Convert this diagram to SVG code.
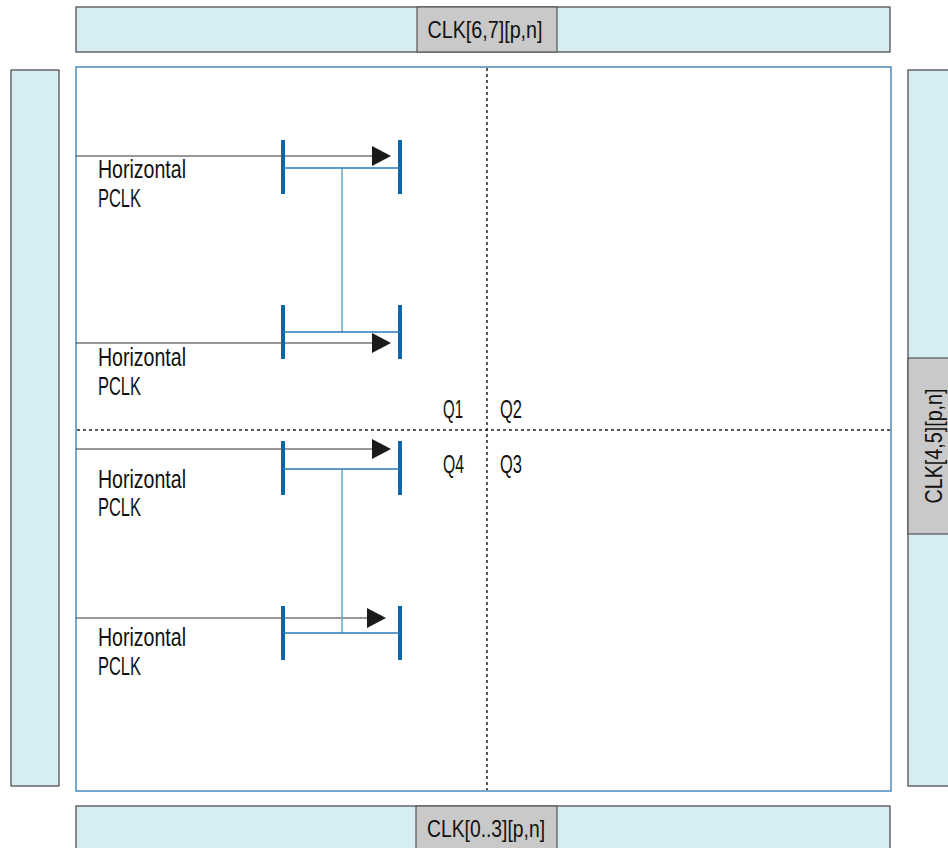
<svg xmlns="http://www.w3.org/2000/svg" width="948" height="848" viewBox="0 0 948 848">
<style>
.bar{fill:#d6edf4;stroke:#444;stroke-width:1.2}
.gray{fill:#c9c9c9;stroke:#555;stroke-width:1.2}
.t{font-family:"Liberation Sans",Arial,sans-serif;font-size:25px;fill:#111}
.lbl{font-family:"Liberation Sans",Arial,sans-serif;font-size:24px;fill:#111}
.bb{stroke:#0a66a8;stroke-width:4;fill:none}
.bl{stroke:#2a78b6;stroke-width:1.5;fill:none}
.bv{stroke:#6aa4cf;stroke-width:1.5;fill:none}
.ar{stroke:#333;stroke-width:1.2;fill:none}
.dot{stroke:#222;stroke-width:1.5;stroke-dasharray:3,3;fill:none}
</style>
<defs>
<marker id="ah" markerUnits="userSpaceOnUse" markerWidth="20" markerHeight="22" refX="0" refY="10" orient="auto">
<path d="M0,0 L19,10 L0,20 Z" fill="#1a1a1a"/>
</marker>
</defs>
<rect width="948" height="848" fill="#fff"/>
<g id="top-bar">
<rect class="bar" x="76" y="7" width="814" height="45"/>
<rect class="gray" x="417" y="7" width="140" height="45"/>
<text class="lbl" x="485" y="38" text-anchor="middle" textLength="115" lengthAdjust="spacingAndGlyphs">CLK[6,7][p,n]</text>
</g>
<g id="bottom-bar">
<rect class="bar" x="76" y="806" width="814" height="50"/>
<rect class="gray" x="416" y="806" width="141" height="50"/>
<text class="lbl" x="486" y="837" text-anchor="middle" textLength="118" lengthAdjust="spacingAndGlyphs">CLK[0..3][p,n]</text>
</g>
<g id="left-bar">
<rect class="bar" x="11" y="70" width="48" height="716"/>
</g>
<g id="right-bar">
<rect class="bar" x="908" y="70" width="50" height="716"/>
<rect class="gray" x="908" y="358" width="50" height="176"/>
<text class="lbl" transform="translate(942,446) rotate(-90)" x="0" y="0" text-anchor="middle" textLength="115" lengthAdjust="spacingAndGlyphs">CLK[4,5][p,n]</text>
</g>
<g id="device">
<rect x="76" y="67" width="815" height="724" fill="#fff" stroke="#4a8cc0" stroke-width="1.5"/>
<line class="dot" x1="487" y1="68" x2="487" y2="790"/>
<line class="dot" x1="77" y1="430" x2="890" y2="430"/>
<text class="t" x="443" y="418" textLength="20" lengthAdjust="spacingAndGlyphs">Q1</text>
<text class="t" x="500" y="418" textLength="22" lengthAdjust="spacingAndGlyphs">Q2</text>
<text class="t" x="443" y="473" textLength="21" lengthAdjust="spacingAndGlyphs">Q4</text>
<text class="t" x="500" y="473" textLength="22" lengthAdjust="spacingAndGlyphs">Q3</text>
</g>
<g id="connectors">
<line class="ar" x1="76" y1="156" x2="372" y2="156" marker-end="url(#ah)"/>
<line class="ar" x1="76" y1="343" x2="372" y2="343" marker-end="url(#ah)"/>
<line class="ar" x1="76" y1="449" x2="372" y2="449" marker-end="url(#ah)"/>
<line class="ar" x1="76" y1="618" x2="367" y2="618" marker-end="url(#ah)"/>
<line class="bv" x1="342" y1="168" x2="342" y2="332"/>
<line class="bv" x1="342" y1="469" x2="342" y2="633"/>
</g>
<g id="pclk-1">
<line class="bb" x1="283" y1="140" x2="283" y2="194"/>
<line class="bb" x1="400" y1="140" x2="400" y2="194"/>
<line class="bl" x1="283" y1="168" x2="400" y2="168"/>
<text class="t" x="98" y="178" textLength="88" lengthAdjust="spacingAndGlyphs">Horizontal</text>
<text class="t" x="98" y="207" textLength="43" lengthAdjust="spacingAndGlyphs">PCLK</text>
</g>
<g id="pclk-2">
<line class="bb" x1="283" y1="305" x2="283" y2="359"/>
<line class="bb" x1="400" y1="305" x2="400" y2="359"/>
<line class="bl" x1="283" y1="332" x2="400" y2="332"/>
<text class="t" x="98" y="366" textLength="88" lengthAdjust="spacingAndGlyphs">Horizontal</text>
<text class="t" x="98" y="395" textLength="43" lengthAdjust="spacingAndGlyphs">PCLK</text>
</g>
<g id="pclk-3">
<line class="bb" x1="283" y1="441" x2="283" y2="495"/>
<line class="bb" x1="400" y1="441" x2="400" y2="495"/>
<line class="bl" x1="283" y1="469" x2="400" y2="469"/>
<text class="t" x="98" y="488" textLength="88" lengthAdjust="spacingAndGlyphs">Horizontal</text>
<text class="t" x="98" y="516" textLength="43" lengthAdjust="spacingAndGlyphs">PCLK</text>
</g>
<g id="pclk-4">
<line class="bb" x1="283" y1="606" x2="283" y2="660"/>
<line class="bb" x1="400" y1="606" x2="400" y2="660"/>
<line class="bl" x1="283" y1="633" x2="400" y2="633"/>
<text class="t" x="98" y="646" textLength="88" lengthAdjust="spacingAndGlyphs">Horizontal</text>
<text class="t" x="98" y="675" textLength="43" lengthAdjust="spacingAndGlyphs">PCLK</text>
</g>
</svg>
